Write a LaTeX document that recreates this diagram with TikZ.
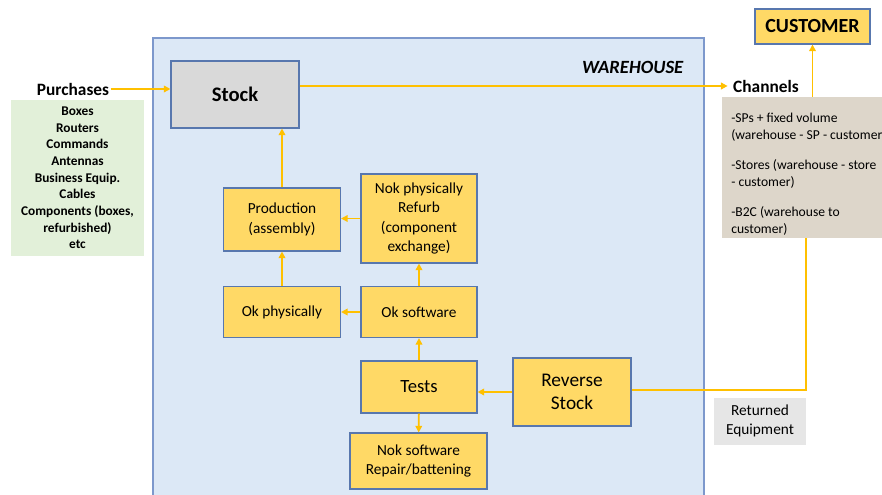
\documentclass[tikz,border=0pt]{standalone}
\usepackage{fontspec}
\setmainfont{Carlito}
\usetikzlibrary{arrows.meta, positioning}

\definecolor{flowor}{HTML}{FFC000}
\definecolor{boxfill}{HTML}{FFD966}
\definecolor{boxline}{HTML}{5877AE}
\definecolor{whfill}{HTML}{DCE8F6}
\definecolor{whline}{HTML}{7D98CC}
\definecolor{stockgray}{HTML}{D9D9D9}
\definecolor{greenfill}{HTML}{E2F0D9}
\definecolor{beige}{HTML}{DDD6CA}
\definecolor{retgray}{HTML}{E6E6E6}

\tikzset{
  sz/.style 2 args={minimum width=#1*0.75pt, minimum height=#2*0.75pt},
  box/.style={draw=boxline, fill=boxfill, line width=0.8pt, inner sep=0pt,
    align=center, font=\fontsize{11.5}{14.5}\selectfont},
  flow/.style={draw=flowor, line width=1.4pt, -{Triangle[length=5pt,width=5pt]}},
}

\begin{document}
\begin{tikzpicture}[x=0.75pt, y=-0.75pt]
    \useasboundingbox (0,0) rectangle (882,495);

    % warehouse area
    \node[draw=whline, fill=whfill, line width=0.9pt, sz={551}{465}] (wh) at (428.5,270.5) {};
    \node[anchor=east, font=\bfseries\itshape\fontsize{14}{16}\selectfont] (whlbl) at (688,67) {WAREHOUSE};

    \node[box, fill=stockgray, sz={128}{67}, font=\bfseries\fontsize{15.5}{18}\selectfont] (stock) at (235,94.5) {Stock}; % stock
    \node[box, sz={117}{63}] (prod) at (282,219.5) {Production\\(assembly)}; % production
    \node[box, sz={116}{89}] (refurb) at (419,218.5) {Nok physically\\Refurb\\(component\\exchange)}; % refurb
    \node[box, sz={117}{51}] (okphys) at (282,312) {Ok physically}; % ok physically
    \node[box, sz={116}{51}] (oksoft) at (419,312) {Ok software}; % ok software
    \node[box, sz={116}{52}, font=\fontsize{14}{17}\selectfont] (tests) at (419,387) {Tests}; % tests
    \node[box, sz={118}{68}, font=\fontsize{14.5}{17.5}\selectfont] (rev) at (572,392) {Reverse\\Stock}; % reverse stock
    \node[box, sz={137}{56}] (noksoft) at (418.5,461) {Nok software\\Repair/battening}; % nok software

    % purchases side
    \node[font=\bfseries\fontsize{13}{15}\selectfont, inner sep=1pt] (purlbl) at (73,89) {Purchases};
    \node[fill=greenfill, sz={133}{156}, inner sep=0pt, align=center,
          font=\bfseries\fontsize{10}{12.5}\selectfont] (purlist) at (77.5,178)
          {Boxes\\Routers\\Commands\\Antennas\\Business Equip.\\Cables\\Components (boxes,\\refurbished)\\etc};

    % channels side
    \node[font=\bfseries\fontsize{13}{15}\selectfont, inner sep=4pt] (chanlbl) at (766,86) {Channels};
    \node[fill=beige, sz={160}{141}, inner sep=0pt] (chan) at (802,167.5) {};
    \node[anchor=north west, align=left, inner sep=0pt, font=\fontsize{10.2}{12.75}\selectfont] (chantxt) at (731,112.5)
          {-SPs + fixed volume\\(warehouse - SP - customer\\[9.75pt]
           -Stores (warehouse - store\\- customer)\\[9.75pt]
           -B2C (warehouse to\\customer)};
    \node[box, sz={115}{35}, font=\bfseries\fontsize{15}{18}\selectfont] (cust) at (812.5,26.5) {CUSTOMER};
    \node[fill=retgray, sz={92}{47}, inner sep=0pt, align=center,
          font=\fontsize{11.5}{13.75}\selectfont] (ret) at (760,421) {Returned\\Equipment};

    \coordinate (back) at (806,390);

    \draw[every edge/.style={flow}]
        (purlbl.east) edge (purlbl.east -| stock.west)
        (stock.east |- chanlbl.west) edge (chanlbl.west)
        (chan.north -| cust) edge (cust.south)
        (okphys) edge (prod)
        (prod.north) edge (prod.north |- stock.south)
        (refurb.west) edge (refurb.west -| prod.east)
        (oksoft) edge (okphys)
        (oksoft) edge (refurb)
        (tests) edge (oksoft)
        (rev.west) edge (rev.west -| tests.east)
        (tests) edge (noksoft)
        ;
    \draw[flow, -] (chan.south -| back) -- (back) -- (rev.east |- back);
\end{tikzpicture}
\end{document}
